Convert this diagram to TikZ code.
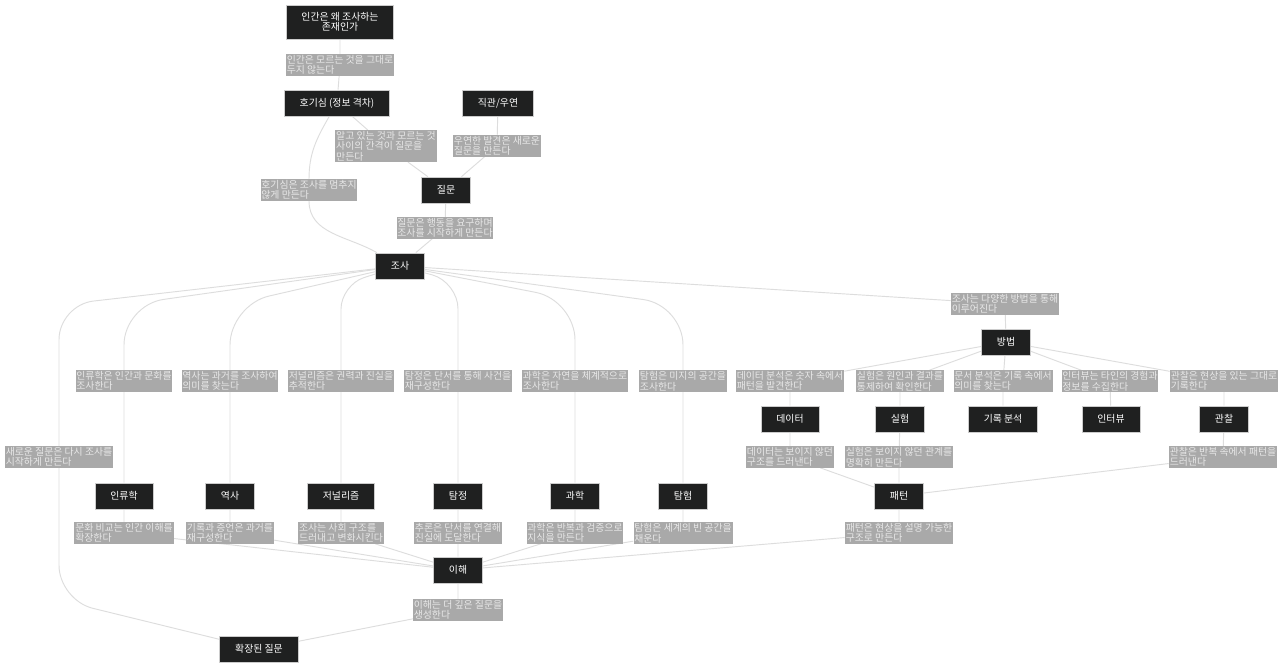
\documentclass[tikz,border=0pt]{standalone}
\usepackage{fontspec}
\setmainfont{Noto Sans CJK KR}
\usetikzlibrary{backgrounds}
\definecolor{boxfill}{HTML}{1F2020}
\definecolor{boxline}{HTML}{CCCCCC}
\definecolor{lblfill}{HTML}{A9A9A9}
\definecolor{lbltext}{HTML}{E8E8E8}
\definecolor{edgeline}{HTML}{DDDDDD}

\begin{document}
\begin{tikzpicture}[x=0.75pt, y=-0.75pt,
  box/.style={draw=boxline, line width=0.6pt, fill=boxfill, text=white,
    align=center, inner xsep=11.5pt, inner ysep=5.5pt, minimum height=19.5pt,
    font=\fontsize{7.4}{7.9}\selectfont},
  lbl/.style={fill=lblfill, text=lbltext, align=left, inner sep=0.6pt,
    font=\fontsize{7.4}{7.9}\selectfont},
  edge/.style={draw=edgeline, line width=0.7pt}]
  \useasboundingbox (0,0) rectangle (1280,667);
  % top: why -> curiosity / intuition -> question -> inquiry
  \node[box] (why) at (340,22) {인간은 왜 조사하는\\존재인가};
  \node[lbl] (why-cur) at (340,65) {인간은 모르는 것을 그대로\\두지 않는다};
  \node[box] (curious) at (337,103) {호기심 (정보 격차)};
  \node[box] (intuition) at (498,103) {직관/우연};
  \node[lbl] (cur-q) at (386,146) {알고 있는 것과 모르는 것\\사이의 간격이 질문을\\만든다};
  \node[lbl] (int-q) at (497,146) {우연한 발견은 새로운\\질문을 만든다};
  \node[box] (question) at (446,190) {질문};
  \node[lbl] (cur-inq) at (309,190) {호기심은 조사를 멈추지\\않게 만든다};
  \node[lbl] (q-inq) at (445,228) {질문은 행동을 요구하며\\조사를 시작하게 만든다};
  \node[box] (inquiry) at (400,266) {조사};
  % methods branch
  \node[lbl] (inq-meth) at (1005,304) {조사는 다양한 방법을 통해\\이루어진다};
  \node[box] (method) at (1006,342) {방법};
  \node[lbl] (m-data) at (790,381) {데이터 분석은 숫자 속에서\\패턴을 발견한다};
  \node[lbl] (m-experiment) at (900,381) {실험은 원인과 결과를\\통제하여 확인한다};
  \node[lbl] (m-records) at (1003,381) {문서 분석은 기록 속에서\\의미를 찾는다};
  \node[lbl] (m-interview) at (1110,381) {인터뷰는 타인의 경험과\\정보를 수집한다};
  \node[lbl] (m-observe) at (1224,381) {관찰은 현상을 있는 그대로\\기록한다};
  \node[box] (data) at (790,419) {데이터};
  \node[box] (experiment) at (900,419) {실험};
  \node[box] (records) at (1003,419) {기록 분석};
  \node[box] (interview) at (1111,419) {인터뷰};
  \node[box] (observe) at (1224,419) {관찰};
  \node[lbl] (data-pat) at (790,457) {데이터는 보이지 않던\\구조를 드러낸다};
  \node[lbl] (exp-pat) at (899,457) {실험은 보이지 않던 관계를\\명확히 만든다};
  \node[lbl] (obs-pat) at (1223,457) {관찰은 반복 속에서 패턴을\\드러낸다};
  \node[box] (pattern) at (899,496) {패턴};
  \node[lbl] (pat-und) at (899,533) {패턴은 현상을 설명 가능한\\구조로 만든다};
  % fields: top label, node, bottom label per column
  \node[lbl] (t-anthro) at (124,381) {인류학은 인간과 문화를\\조사한다};
  \node[lbl] (t-history) at (230,381) {역사는 과거를 조사하여\\의미를 찾는다};
  \node[lbl] (t-journal) at (341,381) {저널리즘은 권력과 진실을\\추적한다};
  \node[lbl] (t-detective) at (458,381) {탐정은 단서를 통해 사건을\\재구성한다};
  \node[lbl] (t-science) at (575,381) {과학은 자연을 체계적으로\\조사한다};
  \node[lbl] (t-explore) at (683,381) {탐험은 미지의 공간을\\조사한다};
  \node[box] (anthro) at (124,496) {인류학};
  \node[box] (history) at (230,496) {역사};
  \node[box] (journal) at (341,496) {저널리즘};
  \node[box] (detective) at (458,496) {탐정};
  \node[box] (science) at (575,496) {과학};
  \node[box] (explore) at (683,496) {탐험};
  \node[lbl] (b-anthro) at (124,533) {문화 비교는 인간 이해를\\확장한다};
  \node[lbl] (b-history) at (230,533) {기록과 증언은 과거를\\재구성한다};
  \node[lbl] (b-journal) at (341,533) {조사는 사회 구조를\\드러내고 변화시킨다};
  \node[lbl] (b-detective) at (458,533) {추론은 단서를 연결해\\진실에 도달한다};
  \node[lbl] (b-science) at (575,533) {과학은 반복과 검증으로\\지식을 만든다};
  \node[lbl] (b-explore) at (683,533) {탐험은 세계의 빈 공간을\\채운다};
  % bottom: understanding -> new question, and back to inquiry
  \node[box] (understand) at (458,570) {이해};
  \node[lbl] (und-newq) at (458,610) {이해는 더 깊은 질문을\\생성한다};
  \node[box] (newq) at (259,649) {확장된 질문};
  \node[lbl] (newq-inq) at (59,457) {새로운 질문은 다시 조사를\\시작하게 만든다};

  \begin{pgfonlayer}{background}
    \fill[white] (0,0) rectangle (1280,667);
    \draw[edge] (why) -- (why-cur) -- (curious);
    \draw[edge] (curious) -- (cur-q) -- (question);
    \draw[edge] (intuition) -- (int-q) -- (question);
    \draw[edge] (curious) to[out=240,in=90] (cur-inq) to[out=270,in=150] (inquiry);
    \draw[edge] (question) -- (q-inq) -- (inquiry);
    \draw[edge] (inquiry) -- (inq-meth) -- (method);
    % columns fan out of the inquiry node and meet again at understanding
    \foreach \n/\x/\y/\r in {anthro/124/305/30, history/230/305/30,
        journal/341/285/18, detective/458/282/20, science/575/300/30,
        explore/683/305/30}
      \draw[edge, rounded corners=\r pt] (inquiry) -- (\x,\y) -- (t-\n)
        -- (\n) -- (b-\n) -- (understand);
    \foreach \n in {data,experiment,records,interview,observe}
      \draw[edge] (method) -- (m-\n) -- (\n);
    \draw[edge] (data) -- (data-pat) -- (pattern);
    \draw[edge] (experiment) -- (exp-pat) -- (pattern);
    \draw[edge] (observe) -- (obs-pat) -- (pattern);
    \draw[edge] (pattern) -- (pat-und) -- (understand);
    \draw[edge] (understand) -- (und-newq) -- (newq);
    \draw[edge, rounded corners=26pt] (newq) -- (59,600) -- (newq-inq)
      -- (59,305) -- (inquiry);
  \end{pgfonlayer}
\end{tikzpicture}
\end{document}
